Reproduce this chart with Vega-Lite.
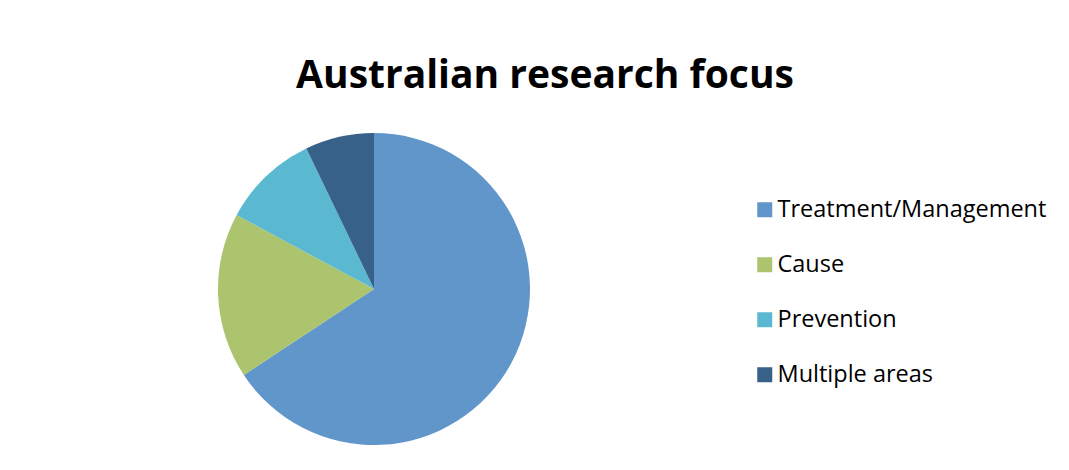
{
  "$schema": "https://vega.github.io/schema/vega-lite/v6.json",
  "autosize": "none",
  "padding": {"left": 218, "top": 133, "right": 539, "bottom": 25},
  "width": 312,
  "height": 312,
  "background": "white",
  "title": {
    "text": "Australian research focus",
    "font": "Open Sans",
    "fontSize": 39,
    "fontWeight": "bold",
    "color": "#000000",
    "anchor": "middle",
    "dx": 171,
    "offset": 37
  },
  "data": {
    "values": [
      {"focus": "Treatment/Management", "count": 46, "idx": 1},
      {"focus": "Cause", "count": 12, "idx": 2},
      {"focus": "Prevention", "count": 7, "idx": 3},
      {"focus": "Multiple areas", "count": 5, "idx": 4}
    ]
  },
  "mark": {"type": "arc", "stroke": null},
  "encoding": {
    "theta": {"field": "count", "type": "quantitative", "stack": true},
    "order": {"field": "idx", "type": "quantitative"},
    "color": {
      "field": "focus",
      "type": "nominal",
      "sort": null,
      "scale": {
        "domain": ["Treatment/Management", "Cause", "Prevention", "Multiple areas"],
        "range": ["#6096C9", "#ABC46D", "#5BB8D1", "#376189"]
      },
      "legend": {
        "title": null,
        "orient": "none",
        "legendX": 535,
        "legendY": 65,
        "padding": 0,
        "symbolType": "square",
        "symbolSize": 225,
        "symbolStrokeWidth": 0,
        "symbolOpacity": 1,
        "labelFont": "Open Sans",
        "labelFontSize": 23.5,
        "labelColor": "#000000",
        "labelOffset": 1,
        "rowPadding": 30,
        "labelLimit": 400
      }
    }
  },
  "config": {"view": {"stroke": null}}
}
